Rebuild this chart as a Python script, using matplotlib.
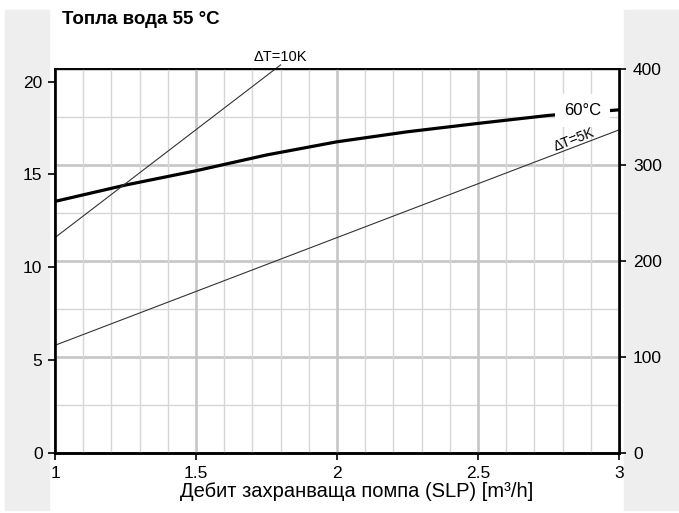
import numpy as np
import matplotlib.pyplot as plt
from matplotlib.patches import Rectangle

plt.rcParams['font.family'] = ['Liberation Sans', 'DejaVu Sans']

# pump flow [m3/h] vs. power
flow = [1.0, 1.25, 1.5, 1.75, 2.0, 2.25, 2.5, 2.75, 3.0]
power_60 = [13.55, 14.43, 15.2, 16.05, 16.76, 17.3, 17.75, 18.18, 18.48]

dt10_flow = [1.0, 1.8]
dt10_power = [11.6, 20.9]
dt5_flow = [1.0, 3.0]
dt5_power = [5.8, 17.4]

left_ticks = [0, 5, 10, 15, 20]
right_ticks = [0, 100, 200, 300, 400]
x_ticks = [1, 1.5, 2, 2.5, 3]
x_labels = ['1', '1.5', '2', '2.5', '3']

W, H = 679, 513
fig = plt.figure(figsize=(W / 100, H / 100), dpi=100)

# grey side bands
grey = '#eeeeee'
fig.patches.append(Rectangle((5 / W, 3 / H), 44 / W, 500 / H,
                             transform=fig.transFigure, color=grey, zorder=0))
fig.patches.append(Rectangle((624 / W, 3 / H), 55 / W, 500 / H,
                             transform=fig.transFigure, color=grey, zorder=0))

rect = [55 / W, 1 - 453 / H, 564 / W, 384 / H]
ax = fig.add_axes(rect)
ax2 = ax.twinx()
ax.set_zorder(2)
ax.patch.set_visible(False)
ax2.set_zorder(1)
ax2.patch.set_visible(True)
ax2.patch.set_facecolor('white')

ax.set_xlim(1, 3)
ax.set_ylim(0, 20.68)
ax2.set_ylim(0, 400)

major_c = '#c6c6c6'
minor_c = '#d6d6d6'

# vertical grid
ax.set_xticks(x_ticks)
ax.set_xticklabels(x_labels)
ax.set_xticks(np.arange(1, 3.01, 0.1), minor=True)
ax.grid(axis='x', which='major', color=major_c, lw=1.9)
ax.grid(axis='x', which='minor', color=minor_c, lw=1.0)
ax.set_axisbelow(True)

# horizontal grid on right axis
ax2.set_yticks(right_ticks)
ax2.set_yticks(np.arange(0, 401, 50), minor=True)
ax2.grid(axis='y', which='major', color=major_c, lw=1.9)
ax2.grid(axis='y', which='minor', color=minor_c, lw=1.0)

ax.set_yticks(left_ticks)

ax.plot(flow, power_60, color='black', lw=2.3, solid_capstyle='butt')
ax.plot(dt10_flow, dt10_power, color='#333333', lw=0.8, clip_on=False)
ax.plot(dt5_flow, dt5_power, color='#333333', lw=0.8)

ax.text(2.87, 18.42, '60°C', fontsize=12, ha='center', va='center',
        bbox=dict(facecolor='white', edgecolor='none', pad=6.5))
ax.text(1.80, 21.3, 'ΔT=10K', fontsize=10.5, ha='center', va='center', clip_on=False)
ax.text(2.84, 16.85, 'ΔT=5K', fontsize=10, ha='center', va='center', rotation=21)

for a in (ax, ax2):
    for s in a.spines.values():
        s.set_color('black')
    a.spines['left'].set_linewidth(1.8)
    a.spines['bottom'].set_linewidth(1.8)
    a.spines['right'].set_linewidth(1.8)
    a.spines['top'].set_linewidth(1.2)

ax.tick_params(axis='both', which='major', direction='out', length=5, width=1.2,
               labelsize=12.5, pad=4, color='black')
ax.tick_params(axis='x', which='minor', length=0)
ax2.tick_params(axis='y', which='major', direction='out', length=5, width=1.2,
                labelsize=12.5, pad=5)
ax2.tick_params(axis='y', which='minor', length=0)

ax.set_xlabel('Дебит захранваща помпа (SLP) [m³/h]', fontsize=14.5)
ax.xaxis.set_label_coords(0.534, -0.0755)

fig.text(62 / W, 1 - 20 / H, 'Топла вода 55 °C', fontsize=13.5, fontweight='bold',
         ha='left', va='center')

fig.savefig('out.png', dpi=100)
